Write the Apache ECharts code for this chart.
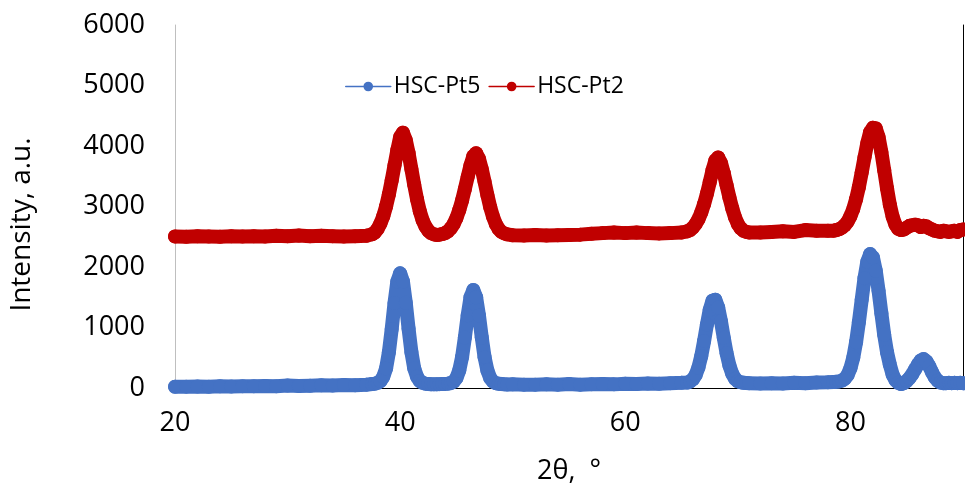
<!DOCTYPE html>
<html>
<head>
<meta charset="utf-8">
<script src="https://cdn.jsdelivr.net/npm/echarts@6/dist/echarts.min.js"></script>
<style>
  html, body { margin: 0; padding: 0; background: #ffffff; }
  #chart { width: 965px; height: 486px; }
</style>
</head>
<body>
<div id="chart"></div>
<script>
// Diffraction angle 2θ (degrees) shared by both patterns
const twoTheta = [
  20, 21, 22, 23, 24, 25, 26, 27, 28, 29, 30, 31, 32, 33, 34, 35, 36, 37,
  37.5, 37.75, 38, 38.25, 38.5, 38.75, 39, 39.25, 39.5, 39.75, 40, 40.25, 40.5, 40.75, 41, 41.25, 41.5, 41.75,
  42, 42.25, 42.5, 42.75, 43, 43.25, 43.5, 43.75, 44, 44.25, 44.5, 44.75, 45, 45.25, 45.5, 45.75,
  46, 46.25, 46.5, 46.75, 47, 47.25, 47.5, 47.75, 48, 48.25, 48.5, 48.75, 49, 49.25, 49.5,
  50, 51, 52, 53, 54, 55, 56, 57, 58, 59, 60, 61, 62, 63, 64, 65,
  65.5, 65.75, 66, 66.25, 66.5, 66.75, 67, 67.25, 67.5, 67.75, 68, 68.25, 68.5, 68.75, 69, 69.25, 69.5, 69.75,
  70, 70.25, 70.5, 70.75, 71,
  72, 73, 74, 75, 76, 77, 78,
  78.5, 78.75, 79, 79.25, 79.5, 79.75, 80, 80.25, 80.5, 80.75, 81, 81.25, 81.5, 81.75, 82, 82.25, 82.5, 82.75,
  83, 83.25, 83.5, 83.75, 84, 84.25, 84.5, 84.75, 85, 85.25, 85.5, 85.75, 86, 86.25, 86.5, 86.75,
  87, 87.25, 87.5, 87.75, 88, 88.25, 88.5, 88.75, 89, 89.25, 89.5, 89.75, 90
];

// Intensity of HSC-Pt5 (a.u.)
const pt5 = [
  20, 22, 25, 20, 28, 25, 30, 28, 35, 30, 40, 35, 38, 45, 40, 50, 45, 55,
  65, 72, 85, 115, 185, 323, 590, 975, 1405, 1760, 1895, 1760, 1410, 980, 595, 325, 185, 115,
  85, 72, 65, 62, 60, 62, 64, 66, 68, 72, 82, 105, 165, 290, 510, 835,
  1200, 1500, 1620, 1500, 1200, 835, 510, 290, 165, 105, 80, 70, 65, 60, 58,
  60, 55, 55, 60, 55, 65, 55, 60, 65, 60, 70, 65, 75, 70, 80, 85,
  90, 106, 143, 215, 340, 528, 775, 1048, 1292, 1444, 1458, 1331, 1102, 829, 573, 372, 236, 154,
  112, 95, 85, 82, 80,
  75, 80, 75, 85, 80, 90, 95,
  100, 102, 109, 123, 154, 215, 325, 500, 756, 1086, 1458, 1816, 2088, 2213, 2157, 1938, 1606, 1232,
  880, 593, 386, 220, 130, 85, 65, 80, 115, 165, 230, 310, 390, 455, 478, 440,
  360, 260, 175, 120, 90, 80, 80, 85, 80, 85, 80, 85, 80
];

// Intensity of HSC-Pt2 (a.u.)
const pt2 = [
  2505, 2500, 2510, 2505, 2500, 2510, 2505, 2510, 2505, 2515, 2510, 2520, 2510, 2515, 2510, 2505, 2510, 2515,
  2540, 2570, 2630, 2720, 2840, 3000, 3200, 3430, 3680, 3930, 4150, 4220, 4100, 3880, 3620, 3360, 3120, 2920,
  2770, 2670, 2600, 2560, 2540, 2530, 2535, 2545, 2560, 2590, 2640, 2710, 2810, 2940, 3100, 3290,
  3490, 3680, 3830, 3880, 3790, 3620, 3410, 3190, 2990, 2830, 2710, 2630, 2580, 2555, 2540,
  2525, 2520, 2530, 2520, 2525, 2530, 2535, 2550, 2560, 2570, 2560, 2570, 2560, 2555, 2560, 2570,
  2590, 2610, 2650, 2710, 2790, 2900, 3040, 3210, 3400, 3600, 3760, 3810, 3720, 3550, 3350, 3150, 2970, 2820,
  2710, 2640, 2600, 2580, 2570,
  2570, 2580, 2590, 2580, 2610, 2600, 2600,
  2600, 2610, 2625, 2650, 2690, 2750, 2840, 2960, 3120, 3320, 3560, 3810, 4050, 4230, 4300, 4290, 4150, 3900,
  3600, 3300, 3030, 2830, 2700, 2630, 2610, 2620, 2650, 2680, 2690, 2700, 2690, 2660, 2680, 2670,
  2640, 2620, 2600, 2590, 2580, 2600, 2590, 2580, 2590, 2600, 2580, 2610, 2620
];

const xTicks = [20, 40, 60, 80];
const yTicks = [0, 1000, 2000, 3000, 4000, 5000, 6000];

const seriesNames = ['HSC-Pt5', 'HSC-Pt2'];
const seriesColors = ['#4472c4', '#c00000'];

const pairs = (ys) => twoTheta.map((x, i) => [x, ys[i]]);

const font = '"Open Sans", "Liberation Sans", sans-serif';

const chart = echarts.init(document.getElementById('chart'), null, { renderer: 'canvas' });

const makeSeries = (name, ys, color) => ({
  name: name,
  type: 'line',
  data: pairs(ys),
  clip: false,
  smooth: false,
  symbol: 'circle',
  symbolSize: 14,
  showSymbol: true,
  showAllSymbol: true,
  itemStyle: { color: color },
  lineStyle: { color: color, width: 14, cap: 'round', join: 'round' },
  emphasis: { disabled: true },
  animation: false
});

chart.setOption({
  animation: false,
  backgroundColor: '#ffffff',
  textStyle: { fontFamily: font },
  grid: { left: 175, right: 2, top: 25, bottom: 98, containLabel: false, outerBoundsMode: 'none' },
  legend: {
    data: seriesNames,
    left: 340,
    top: 70,
    itemGap: 8,
    itemWidth: 45,
    itemHeight: 12,
    lineStyle: { width: 1.5 },
    textStyle: { fontFamily: font, fontSize: 23, color: '#000000', padding: [0, 0, 0, -2] }
  },
  xAxis: [{
    type: 'value',
    min: 20,
    max: 90,
    interval: 20,
    name: '2θ,  °',
    nameLocation: 'middle',
    nameGap: 70,
    nameTextStyle: { fontFamily: font, fontSize: 27, color: '#000000' },
    axisLine: { show: true, lineStyle: { color: '#000000', width: 1 } },
    axisTick: { show: false },
    splitLine: { show: false },
    axisLabel: {
      fontFamily: font, fontSize: 27, color: '#000000', margin: 22,
      formatter: (v) => xTicks.includes(v) ? String(v) : ''
    }
  }, {
    type: 'value',
    position: 'top',
    min: 20,
    max: 90,
    axisLine: { show: true, lineStyle: { color: '#000000', width: 1 } },
    axisTick: { show: false },
    axisLabel: { show: false },
    splitLine: { show: false }
  }],
  yAxis: [{
    type: 'value',
    min: 0,
    max: 6000,
    interval: 1000,
    name: 'Intensity, a.u.',
    nameLocation: 'middle',
    nameGap: 139,
    nameRotate: 90,
    nameTextStyle: { fontFamily: font, fontSize: 28, color: '#000000', padding: [0, 36, 0, 0] },
    axisLine: { show: true, lineStyle: { color: '#bfbfbf', width: 1 } },
    axisTick: { show: false },
    splitLine: { show: false },
    axisLabel: {
      fontFamily: font, fontSize: 27, color: '#000000', margin: 30,
      formatter: (v) => yTicks.includes(v) ? String(v) : ''
    }
  }, {
    type: 'value',
    position: 'right',
    min: 0,
    max: 6000,
    axisLine: { show: true, lineStyle: { color: '#000000', width: 1 } },
    axisTick: { show: false },
    axisLabel: { show: false },
    splitLine: { show: false }
  }],
  series: [
    makeSeries(seriesNames[0], pt5, seriesColors[0]),
    makeSeries(seriesNames[1], pt2, seriesColors[1])
  ]
});
</script>
</body>
</html>
